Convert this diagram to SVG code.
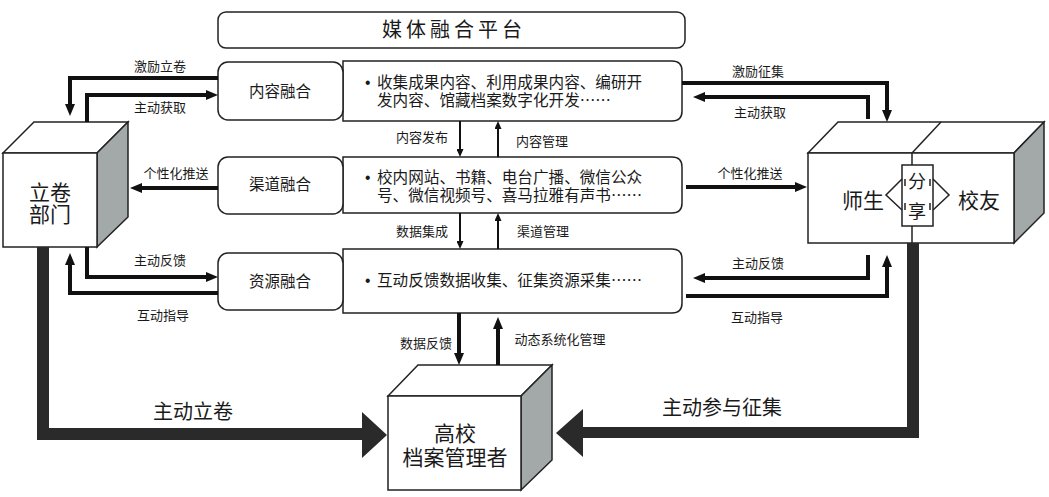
<svg xmlns="http://www.w3.org/2000/svg" width="1049" height="497" viewBox="0 0 1049 497">
<defs>
<style>
text{font-family:"Noto Sans CJK SC","Noto Sans",sans-serif;fill:#1a1a1a}
.box{fill:#fff;stroke:#222;stroke-width:1.5}
.side{fill:#a3a9a9;stroke:#222;stroke-width:1.5}
.lbl{font-size:13px;text-anchor:middle}
.big{font-size:21px;text-anchor:middle}
.mid{font-size:15.5px;text-anchor:middle}
.body{font-size:15.6px}
.bul{font-family:"Liberation Sans",sans-serif}
.conn{fill:none;stroke:#111;stroke-width:4}
.thin{fill:none;stroke:#111;stroke-width:2}
.thick{fill:#2a2a2a}
</style>
<marker id="ah" viewBox="0 0 12 10" refX="0" refY="5" markerWidth="12" markerHeight="10" markerUnits="userSpaceOnUse" orient="auto"><path d="M0,0 L12,5 L0,10 z" fill="#111"/></marker>
<marker id="ahs" viewBox="0 0 8 7" refX="0" refY="3.5" markerWidth="8" markerHeight="7" markerUnits="userSpaceOnUse" orient="auto"><path d="M0,0 L8,3.5 L0,7 z" fill="#111"/></marker>
</defs>

<g id="platform">
<rect class="box" x="218" y="12" width="467" height="36" rx="8"/>
<text x="382" y="37" style="font-size:20px;letter-spacing:4px">媒体融合平台</text>
</g>

<g id="content">
<path class="box" d="M343,61 H672 Q682,61 682,71 V111 Q682,121 672,121 H343 Z"/>
<rect class="box" x="218" y="62" width="125" height="58" rx="10"/>
<text class="mid" x="280" y="97">内容融合</text>
<text class="body" x="365" y="88"><tspan class="bul">•</tspan><tspan x="377">收集成果内容、利用成果内容、编研开</tspan><tspan x="377" y="106">发内容、馆藏档案数字化开发……</tspan></text>
</g>

<g id="channel">
<path class="box" d="M343,157 H672 Q682,157 682,167 V203 Q682,213 672,213 H343 Z"/>
<rect class="box" x="218" y="157" width="125" height="57" rx="10"/>
<text class="mid" x="280" y="190">渠道融合</text>
<text class="body" x="365" y="183"><tspan class="bul">•</tspan><tspan x="377">校内网站、书籍、电台广播、微信公众</tspan><tspan x="377" y="201">号、微信视频号、喜马拉雅有声书……</tspan></text>
</g>

<g id="resource">
<path class="box" d="M343,249 H672 Q682,249 682,259 V303 Q682,313 672,313 H343 Z"/>
<rect class="box" x="218" y="253" width="125" height="57" rx="10"/>
<text class="mid" x="280" y="287">资源融合</text>
<text class="body" x="365" y="286"><tspan class="bul">•</tspan><tspan x="377">互动反馈数据收集、征集资源采集……</tspan></text>
</g>

<g id="dept">
<polygon class="box" points="3,153 34,122 128,122 97,153"/>
<polygon class="side" points="97,153 128,122 128,217 97,247"/>
<rect class="box" x="3" y="153" width="94" height="94"/>
<text class="big" x="50" y="200">立卷<tspan x="50" y="222">部门</tspan></text>
</g>

<g id="people">
<polygon class="box" points="808,153 838,122 1044,122 1014,153"/>
<line x1="941" y1="122" x2="912" y2="153" stroke="#222" stroke-width="1.5"/>
<polygon class="side" points="1014,153 1044,122 1044,213 1014,243"/>
<rect class="box" x="808" y="153" width="206" height="90"/>
<line x1="912" y1="153" x2="912" y2="165" stroke="#222" stroke-width="1.5"/>
<line x1="912" y1="226" x2="912" y2="243" stroke="#222" stroke-width="1.5"/>
<rect class="box" x="902" y="165" width="31" height="61"/>
<polyline points="902,179 886,195 902,210" fill="none" stroke="#222" stroke-width="1.5"/>
<polyline points="933,179 949,195 933,210" fill="none" stroke="#222" stroke-width="1.5"/>
<line x1="905" y1="179" x2="905" y2="186" stroke="#222" stroke-width="1.5"/>
<line x1="905" y1="203" x2="905" y2="210" stroke="#222" stroke-width="1.5"/>
<line x1="930" y1="179" x2="930" y2="186" stroke="#222" stroke-width="1.5"/>
<line x1="930" y1="203" x2="930" y2="210" stroke="#222" stroke-width="1.5"/>
<text x="917" y="188" style="font-size:18px;text-anchor:middle">分<tspan x="917" y="218">享</tspan></text>
<text class="big" x="863" y="208">师生</text>
<text class="big" x="979" y="208">校友</text>
</g>

<g id="manager">
<polygon class="box" points="388,396 418,365 552,365 521,396"/>
<polygon class="side" points="521,396 552,365 552,460 521,490"/>
<rect class="box" x="388" y="396" width="133" height="94"/>
<text class="big" x="455" y="441">高校<tspan x="455" y="465">档案管理者</tspan></text>
</g>

<g id="connectors">
<path class="thick" d="M37,247 H49 V428 H362 V412 L387,435 L362,458 V440 H37 Z"/>
<path class="thick" d="M919,243 V438 H583 V457 L556,433 L583,409 V427 H907 V243 Z"/>
<path class="conn" d="M218,78 H70 V104" marker-end="url(#ah)"/>
<path class="conn" d="M87,122 V95 H206" marker-end="url(#ah)"/>
<path class="conn" d="M218,188 H142" marker-end="url(#ah)"/>
<path class="conn" d="M87,247 V277 H206" marker-end="url(#ah)"/>
<path class="conn" d="M218,293 H70 V265" marker-end="url(#ah)"/>
<path class="conn" d="M682,83 H887 V110" marker-end="url(#ah)"/>
<path class="conn" d="M868,119 V97 H705" marker-end="url(#ah)"/>
<path class="conn" d="M686,187 H795" marker-end="url(#ah)"/>
<path class="conn" d="M868,255 V278 H705" marker-end="url(#ah)"/>
<path class="conn" d="M686,296 H887 V267" marker-end="url(#ah)"/>
<path class="thin" d="M460,121 V149" marker-end="url(#ahs)"/>
<path class="thin" d="M498,157 V129" marker-end="url(#ahs)"/>
<path class="thin" d="M460,213 V241" marker-end="url(#ahs)"/>
<path class="thin" d="M498,249 V221" marker-end="url(#ahs)"/>
<path class="conn" d="M459,313 V353" marker-end="url(#ah)"/>
<path class="conn" d="M498,365 V329" marker-end="url(#ah)"/>
<text class="lbl" x="160" y="71">激励立卷</text>
<text class="lbl" x="160" y="112">主动获取</text>
<text class="lbl" x="176" y="178">个性化推送</text>
<text class="lbl" x="160" y="265">主动反馈</text>
<text class="lbl" x="163" y="320">互动指导</text>
<text class="lbl" x="758" y="76">激励征集</text>
<text class="lbl" x="760" y="117">主动获取</text>
<text class="lbl" x="750" y="178">个性化推送</text>
<text class="lbl" x="758" y="268">主动反馈</text>
<text class="lbl" x="757" y="322">互动指导</text>
<text class="lbl" x="422" y="142">内容发布</text>
<text class="lbl" x="542" y="146">内容管理</text>
<text class="lbl" x="422" y="236">数据集成</text>
<text class="lbl" x="543" y="236">渠道管理</text>
<text class="lbl" x="426" y="348">数据反馈</text>
<text class="lbl" x="560" y="344">动态系统化管理</text>
<text x="193" y="419" style="font-size:20px;text-anchor:middle">主动立卷</text>
<text x="722" y="415" style="font-size:20px;text-anchor:middle">主动参与征集</text>
</g>
</svg>
